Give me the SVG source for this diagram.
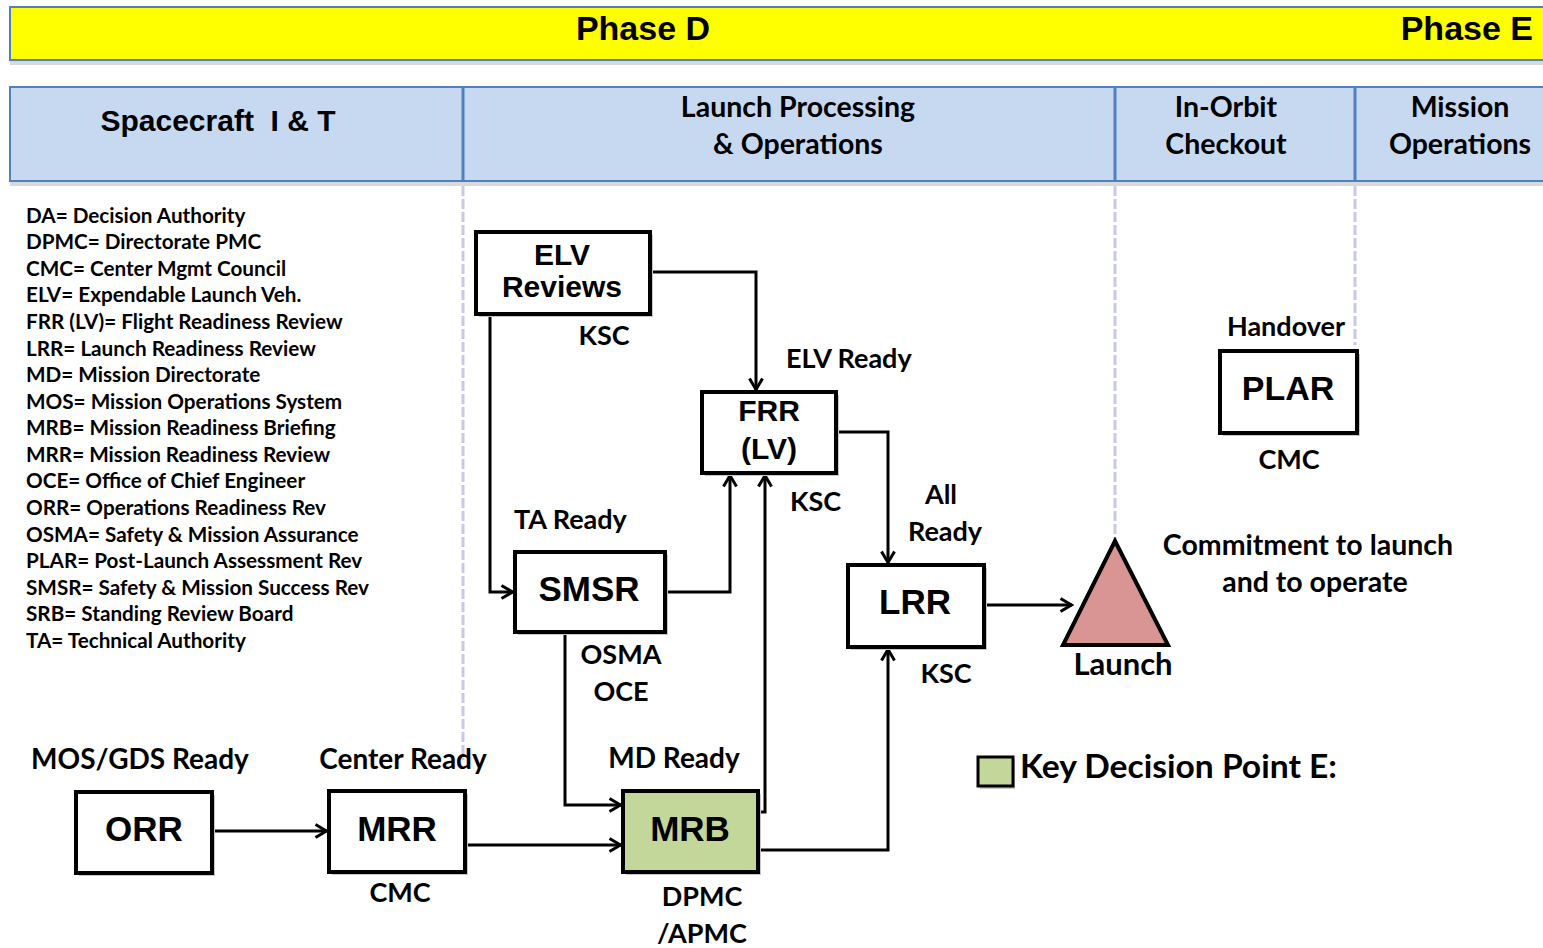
<svg xmlns="http://www.w3.org/2000/svg" width="1543" height="948" viewBox="0 0 1543 948">
<style>
.cal{font-family:Lato,"Open Sans","Liberation Sans",sans-serif;font-weight:bold;fill:#000}
.ari{font-family:"Liberation Sans",Arial,sans-serif;font-weight:bold;fill:#000}
.box{fill:#fff;stroke:#000;stroke-width:4}
.sh{fill:#c8c8c8}
.con{fill:none;stroke:#000;stroke-width:3}
.dash{stroke:#c8c8e8;stroke-width:3;stroke-dasharray:10,3}
.leg{font-size:20.7px}
.lbl{font-size:27px}
.node{font-size:35px}
</style>
<defs>
<marker id="arr" viewBox="0 0 16 16" refX="14.5" refY="8" markerWidth="16" markerHeight="16" markerUnits="userSpaceOnUse" orient="auto">
<path d="M3,1.5 L14,8 L3,14.5" fill="none" stroke="#000" stroke-width="3"/>
</marker>
</defs>
<rect width="1543" height="948" fill="#fff"/>
<g id="phase-bar">
<rect x="10" y="60" width="1533" height="5" fill="#d9d9d9"/>
<rect x="10" y="7" width="1540" height="53" fill="#ffff00" stroke="#4f81bd" stroke-width="2"/>
<text class="ari" x="643" y="40" font-size="34" text-anchor="middle">Phase D</text>
<text class="ari" x="1533" y="40" font-size="34" text-anchor="end">Phase E</text>
</g>
<g id="header">
<rect x="10" y="181" width="1533" height="5" fill="#d9d9d9"/>
<rect x="10" y="87" width="1540" height="94" fill="#c6d9f1" stroke="#4f81bd" stroke-width="2"/>
<line x1="463" y1="87" x2="463" y2="181" stroke="#4f81bd" stroke-width="3"/>
<line x1="1115" y1="87" x2="1115" y2="181" stroke="#4f81bd" stroke-width="3"/>
<line x1="1355" y1="87" x2="1355" y2="181" stroke="#4f81bd" stroke-width="3"/>
<text class="ari" x="218" y="131" font-size="30" text-anchor="middle" xml:space="preserve">Spacecraft  I &amp; T</text>
<text class="cal" x="798" y="117" font-size="28.5" text-anchor="middle">Launch Processing</text>
<text class="cal" x="798" y="154" font-size="28.5" text-anchor="middle">&amp; Operations</text>
<text class="cal" x="1226" y="117" font-size="28.5" text-anchor="middle">In-Orbit</text>
<text class="cal" x="1226" y="154" font-size="28.5" text-anchor="middle">Checkout</text>
<text class="cal" x="1460" y="117" font-size="28.5" text-anchor="middle">Mission</text>
<text class="cal" x="1460" y="154" font-size="28.5" text-anchor="middle">Operations</text>
</g>
<g id="dividers">
<line class="dash" x1="463" y1="186" x2="463" y2="760"/>
<line class="dash" x1="1115" y1="186" x2="1115" y2="540"/>
<line class="dash" x1="1355" y1="186" x2="1355" y2="345"/>
</g>
<g id="legend" class="cal leg">
<text x="26" y="223">DA= Decision Authority</text>
<text x="26" y="249">DPMC= Directorate PMC</text>
<text x="26" y="276">CMC= Center Mgmt Council</text>
<text x="26" y="302">ELV= Expendable Launch Veh.</text>
<text x="26" y="329">FRR (LV)= Flight Readiness Review</text>
<text x="26" y="356">LRR= Launch Readiness Review</text>
<text x="26" y="382">MD= Mission Directorate</text>
<text x="26" y="409">MOS= Mission Operations System</text>
<text x="26" y="435">MRB= Mission Readiness Briefing</text>
<text x="26" y="462">MRR= Mission Readiness Review</text>
<text x="26" y="488">OCE= Office of Chief Engineer</text>
<text x="26" y="515">ORR= Operations Readiness Rev</text>
<text x="26" y="542">OSMA= Safety &amp; Mission Assurance</text>
<text x="26" y="568">PLAR= Post-Launch Assessment Rev</text>
<text x="26" y="595">SMSR= Safety &amp; Mission Success Rev</text>
<text x="26" y="621">SRB= Standing Review Board</text>
<text x="26" y="648">TA= Technical Authority</text>
</g>
<g id="connectors">
<path class="con" d="M650,272 H756 V390" marker-end="url(#arr)"/>
<path class="con" d="M490,314 V592 H513" marker-end="url(#arr)"/>
<path class="con" d="M665,592 H730 V475" marker-end="url(#arr)"/>
<path class="con" d="M757,812 H765 V475" marker-end="url(#arr)"/>
<path class="con" d="M837,432 H888 V563" marker-end="url(#arr)"/>
<path class="con" d="M984,605 H1072" marker-end="url(#arr)"/>
<path class="con" d="M757,850 H888 V649" marker-end="url(#arr)"/>
<path class="con" d="M565,632 V805 H621" marker-end="url(#arr)"/>
<path class="con" d="M212,831 H327" marker-end="url(#arr)"/>
<path class="con" d="M465,845 H621" marker-end="url(#arr)"/>
</g>
<g id="elv-reviews">
<rect class="sh" x="479" y="235" width="174" height="82"/>
<rect class="box" x="476" y="232" width="174" height="82"/>
<text class="ari" x="562" y="265" font-size="30" text-anchor="middle">ELV</text>
<text class="ari" x="562" y="297" font-size="30" text-anchor="middle">Reviews</text>
<text class="cal lbl" x="604" y="345" text-anchor="middle">KSC</text>
</g>
<g id="frr">
<rect class="sh" x="705" y="395" width="134" height="81"/>
<rect class="box" x="702" y="392" width="134" height="81"/>
<text class="ari" x="769" y="421" font-size="30" text-anchor="middle">FRR</text>
<text class="ari" x="769" y="459" font-size="30" text-anchor="middle">(LV)</text>
<text class="cal lbl" x="786" y="368">ELV Ready</text>
<text class="cal lbl" x="790" y="511">KSC</text>
</g>
<g id="smsr">
<rect class="sh" x="518" y="555" width="150" height="80"/>
<rect class="box" x="515" y="552" width="150" height="80"/>
<text class="ari node" x="589" y="601" text-anchor="middle">SMSR</text>
<text class="cal lbl" x="514" y="529">TA Ready</text>
<text class="cal lbl" x="621" y="664" text-anchor="middle">OSMA</text>
<text class="cal lbl" x="621" y="701" text-anchor="middle">OCE</text>
</g>
<g id="lrr">
<rect class="sh" x="851" y="568" width="136" height="82"/>
<rect class="box" x="848" y="565" width="136" height="82"/>
<text class="ari node" x="915" y="614" text-anchor="middle">LRR</text>
<text class="cal lbl" x="941" y="504" text-anchor="middle">All</text>
<text class="cal lbl" x="945" y="541" text-anchor="middle">Ready</text>
<text class="cal lbl" x="946" y="683" text-anchor="middle">KSC</text>
</g>
<g id="launch">
<polygon points="1115,541 1168,645 1063,645" fill="#d99594" stroke="#000" stroke-width="4" stroke-linejoin="miter"/>
<text class="cal" x="1123" y="675" font-size="31" text-anchor="middle">Launch</text>
<text class="cal" x="1308" y="555" font-size="28.5" text-anchor="middle">Commitment to launch</text>
<text class="cal" x="1315" y="592" font-size="28.5" text-anchor="middle">and to operate</text>
</g>
<g id="plar">
<rect class="sh" x="1223" y="354" width="137" height="82"/>
<rect class="box" x="1220" y="351" width="137" height="82"/>
<text class="ari" x="1288" y="400" font-size="34" text-anchor="middle">PLAR</text>
<text class="cal lbl" x="1286" y="336" text-anchor="middle">Handover</text>
<text class="cal lbl" x="1289" y="469" text-anchor="middle">CMC</text>
</g>
<g id="orr">
<rect class="sh" x="79" y="795" width="136" height="81"/>
<rect class="box" x="76" y="792" width="136" height="81"/>
<text class="ari node" x="144" y="841" text-anchor="middle">ORR</text>
<text class="cal" x="140" y="769" font-size="28" text-anchor="middle">MOS/GDS Ready</text>
</g>
<g id="mrr">
<rect class="sh" x="332" y="794" width="136" height="81"/>
<rect class="box" x="329" y="791" width="136" height="81"/>
<text class="ari node" x="397" y="841" text-anchor="middle">MRR</text>
<text class="cal" x="403" y="769" font-size="28" text-anchor="middle">Center Ready</text>
<text class="cal lbl" x="400" y="902" text-anchor="middle">CMC</text>
</g>
<g id="mrb">
<rect class="sh" x="626" y="794" width="135" height="81"/>
<rect class="box" x="623" y="791" width="135" height="81" style="fill:#c4d79b"/>
<text class="ari node" x="690" y="841" text-anchor="middle">MRB</text>
<text class="cal" x="674" y="768" font-size="28" text-anchor="middle">MD Ready</text>
<text class="cal lbl" x="702" y="906" text-anchor="middle">DPMC</text>
<text class="cal lbl" x="702" y="943" text-anchor="middle">/APMC</text>
</g>
<g id="key">
<rect class="sh" x="980" y="759" width="35" height="30"/>
<rect x="978" y="757" width="35" height="29" fill="#c4d79b" stroke="#000" stroke-width="3"/>
<text class="cal" x="1020" y="778" font-size="33" textLength="317" lengthAdjust="spacingAndGlyphs">Key Decision Point E:</text>
</g>
</svg>
